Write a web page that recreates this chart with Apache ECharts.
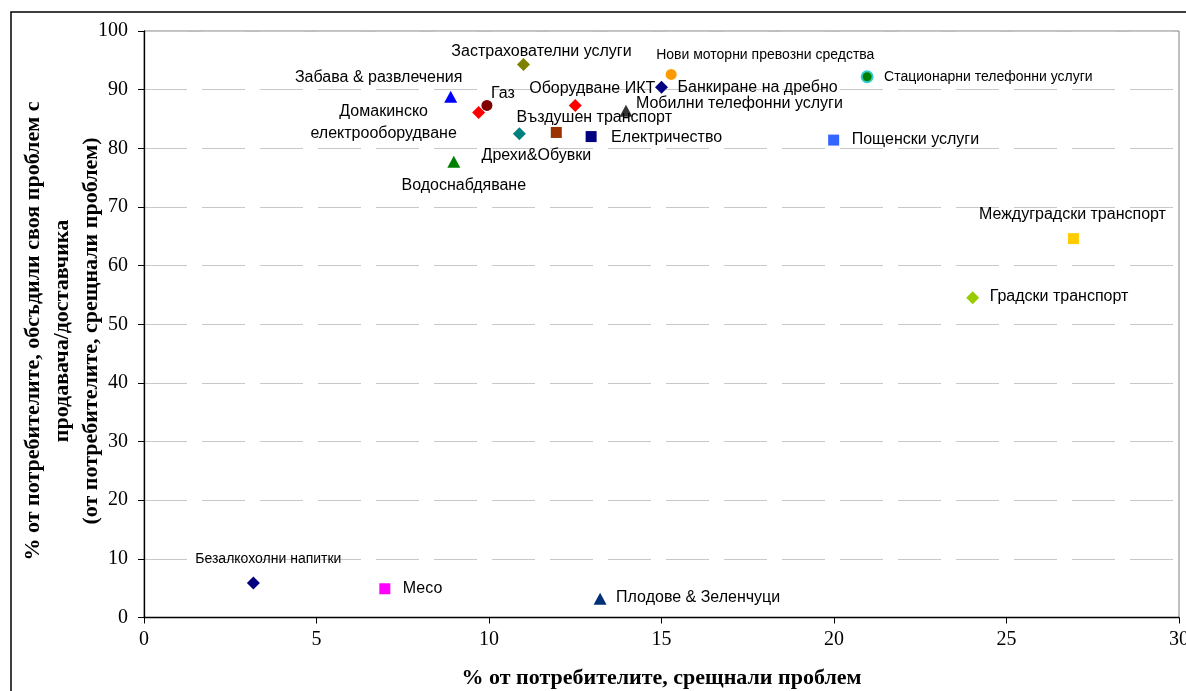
<!DOCTYPE html>
<html>
<head>
<meta charset="utf-8">
<script src="https://cdn.jsdelivr.net/npm/echarts@6/dist/echarts.min.js"></script>
<style>
html,body{margin:0;padding:0;background:#fff;overflow:hidden;}
#chart{width:1186px;height:691px;}
</style>
</head>
<body>
<div id="chart"></div>
<script>
// ---- data ----
const categories = [
  'Безалкохолни напитки',
  'Месо',
  'Плодове & Зеленчуци',
  'Забава & развлечения',
  'Газ',
  'Домакинско\nелектрооборудване',
  'Застрахователни услуги',
  'Оборудване ИКТ',
  'Мобилни телефонни услуги',
  'Въздушен транспорт',
  'Електричество',
  'Дрехи&Обувки',
  'Водоснабдяване',
  'Банкиране на дребно',
  'Нови моторни превозни средства',
  'Стационарни телефонни услуги',
  'Пощенски услуги',
  'Междуградски транспорт',
  'Градски транспорт'
];
const problemShare = [3.17, 6.98, 13.22, 8.89, 9.94, 9.70, 11.0, 12.5, 13.97, 11.95, 12.96, 10.88, 8.98, 15.0, 15.28, 20.96, 19.99, 26.94, 24.02];
const discussedShare = [5.9, 4.9, 3.2, 88.8, 87.3, 86.1, 94.3, 87.3, 86.4, 82.7, 82.0, 82.5, 77.7, 90.4, 92.6, 92.2, 81.4, 64.6, 54.5];
const xTicks = [0, 5, 10, 15, 20, 25, 30];
const yTicks = [0, 10, 20, 30, 40, 50, 60, 70, 80, 90, 100];

// ---- styles (separate from data) ----
const markerShape = ['diamond','rect','triangle','triangle','circle','diamond','diamond','diamond','triangle','rect','rect','diamond','triangle','diamond','circle','circle','rect','rect','diamond'];
const markerColor = ['#000080','#ff00ff','#00307a','#0000ff','#800000','#ff0000','#808000','#ff0000','#333333','#993300','#000080','#008080','#008000','#000080','#ff9900','#008000','#3366ff','#ffcc00','#99cc00'];
const labelAlign = ['center','left','left','center','center','center','center','center','left','center','left','center','center','left','left','left','left','center','left'];
const labelOffset = [[15,-24],[18,0],[16,-1],[-72,-19],[16,-12],[-95,10],[18,-13],[17,-17],[10,-7],[38,-15],[20,1],[17,22],[10,24],[16,0],[-15,-19],[17,0],[18,0],[-1,-24],[17,-1]];
const labelSize = [14,16,16,16,16,16,16,16,16,16,16,16,16,16,14,14,16,16,16];

function symSize(s){
  if (s === 'diamond') return 13;
  if (s === 'rect') return 11;
  if (s === 'triangle') return [13,12];
  return 11;
}

const points = categories.map((name, i) => ({
  name: name,
  value: [problemShare[i], discussedShare[i]],
  symbol: markerShape[i],
  symbolSize: symSize(markerShape[i]),
  itemStyle: i === 15
    ? {color: '#008000', borderColor: '#33cccc', borderWidth: 2, opacity: 1}
    : {color: markerColor[i], opacity: 1},
  label: {
    show: true,
    formatter: name,
    position: 'inside',
    align: labelAlign[i],
    verticalAlign: 'middle',
    offset: labelOffset[i],
    fontSize: labelSize[i],
    lineHeight: 22,
    color: '#000',
    textBorderWidth: 0,
    fontFamily: '"Liberation Sans", Arial, sans-serif'
  }
}));

const serifFont = '"Liberation Serif", "Times New Roman", serif';
const chart = echarts.init(document.getElementById('chart'));
chart.setOption({
  animation: false,
  backgroundColor: '#fff',
  grid: {left: 144, top: 31, width: 1035, height: 586.5, containLabel: false, outerBoundsMode: 'none',
         show: true, borderColor: '#808080', borderWidth: 1, backgroundColor: 'transparent'},
  xAxis: {
    type: 'value', min: xTicks[0], max: xTicks[xTicks.length-1], interval: 5,
    name: '% от потребителите, срещнали проблем',
    nameLocation: 'middle', nameGap: 50,
    nameTextStyle: {fontFamily: serifFont, fontWeight: 'bold', fontSize: 22, color: '#000'},
    axisLine: {show: true, onZero: false, lineStyle: {color: '#000', width: 1.3}},
    axisTick: {show: true, length: 6, lineStyle: {color: '#000'}},
    axisLabel: {fontFamily: serifFont, fontSize: 20, color: '#000', margin: 12},
    splitLine: {show: false}
  },
  yAxis: {
    type: 'value', min: yTicks[0], max: yTicks[yTicks.length-1], interval: 10,
    axisLine: {show: true, onZero: false, lineStyle: {color: '#000', width: 1.3}},
    axisTick: {show: true, length: 6, lineStyle: {color: '#000'}},
    axisLabel: {fontFamily: serifFont, fontSize: 20, color: '#000', margin: 16},
    splitLine: {show: true, lineStyle: {color: '#c8c8c8', width: 1, type: [43, 15]}}
  },
  graphic: [
    {type: 'rect', x: 11, y: 12, z: -1, shape: {x: 0, y: 0, width: 1200, height: 700}, style: {fill: 'none', stroke: '#000', lineWidth: 1.5}},
    {type: 'text', x: 62, y: 331, rotation: Math.PI/2,
     style: {text: '% от потребителите, обсъдили своя проблем с\nпродавача/доставчика\n(от потребителите, срещнали проблем)',
             textAlign: 'center', textVerticalAlign: 'middle', lineHeight: 29,
             font: 'bold 22px "Liberation Serif", "Times New Roman", serif', fill: '#000'}}
  ],
  series: [{
    type: 'scatter',
    data: points
  }]
});
</script>
</body>
</html>
